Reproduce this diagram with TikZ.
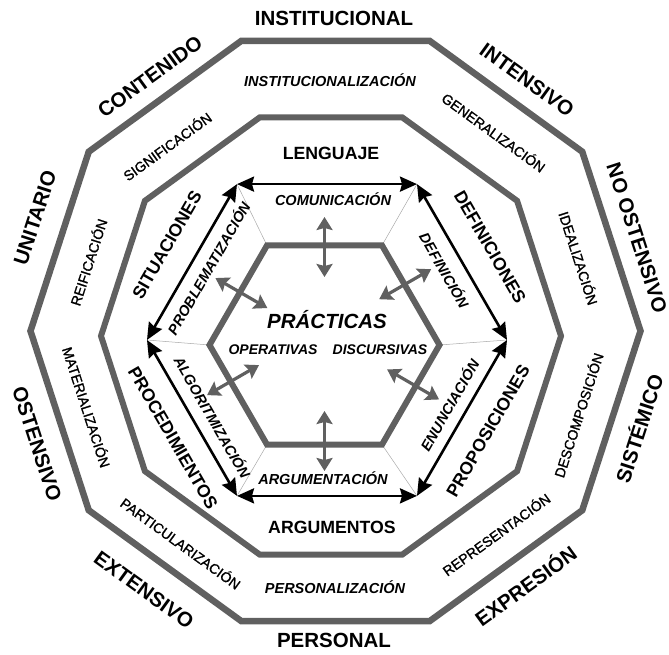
\documentclass[tikz,border=0pt]{standalone}
\usepackage{fontspec}
\setmainfont{Liberation Sans}
\newfontfamily\midfont[FakeBold=1.3]{Liberation Sans}
\usetikzlibrary{arrows.meta,calc}
\definecolor{ringgray}{RGB}{96,96,96}
\definecolor{spokegray}{RGB}{170,170,170}

\begin{document}
\begin{tikzpicture}[x=1pt,y=1pt,
		ring/.style={draw=ringgray,line width=6.5pt},
		bigarrow/.style={line width=2.6pt,{Stealth[length=17pt,width=15pt,inset=2pt]}-{Stealth[length=17pt,width=15pt,inset=2pt]}},
		grayarrow/.style={draw=ringgray,line width=3.2pt,{Stealth[length=13pt,width=16pt,inset=2pt]}-{Stealth[length=13pt,width=16pt,inset=2pt]}},
		spoke/.style={draw=spokegray,line width=0.5pt},
		outerlbl/.style={font=\bfseries\fontsize{20.5}{24}\selectfont},
		midlbl/.style={font=\midfont\fontsize{14}{16}\selectfont},
		miditlbl/.style={font=\bfseries\itshape\fontsize{14.5}{17}\selectfont},
		innerlbl/.style={font=\bfseries\fontsize{17.7}{20}\selectfont},
		arrowlbl/.style={font=\bfseries\itshape\fontsize{14.5}{17}\selectfont},
		centerlbl/.style={font=\bfseries\itshape\fontsize{20.5}{24}\selectfont}]
	\useasboundingbox (0,0) rectangle (669,654);

	% centres of the four polygons
	\coordinate (oc) at (335.5,323);
	\coordinate (mc) at (331,318);
	\coordinate (ac) at (327,314);
	\coordinate (hc) at (324.5,309);

	% corners
	\foreach \i in {0,...,9} {
		\coordinate (o\i) at ($(oc)+(\i*36:305)$);
		\coordinate (m\i) at ($(mc)+(\i*36:230)$);
	}
	\foreach \i in {0,...,5} {
		\coordinate (a\i) at ($(ac)+(\i*60:180)$);
		\coordinate (p\i) at ($(hc)+(\i*60:115)$);
	}

	% rings
	\draw[ring] (o0) -- (o1) -- (o2) -- (o3) -- (o4) -- (o5) -- (o6) -- (o7) -- (o8) -- (o9) -- cycle;
	\draw[ring,line width=6pt] (m0) -- (m1) -- (m2) -- (m3) -- (m4) -- (m5) -- (m6) -- (m7) -- (m8) -- (m9) -- cycle;
	\foreach \i in {0,...,5}
		\draw[spoke] (p\i) -- (a\i);
	\draw[ring,line width=6pt] (p0) -- (p1) -- (p2) -- (p3) -- (p4) -- (p5) -- cycle;

	% black arrows between the corners
	\draw[bigarrow] (a0) -- (a1);
	\draw[bigarrow] (a1) -- (a2);
	\draw[bigarrow] (a2) -- (a3);
	\draw[bigarrow] (a3) -- (a4);
	\draw[bigarrow] (a4) -- (a5);
	\draw[bigarrow] (a5) -- (a0);

	% gray arrows through the hexagon
	\foreach \a/\r/\d in {90/98/90, 148/98/150, 37/101/30, -24/97/-30, 201/98/210, -90/96/90}
		\draw[grayarrow] ($(hc)+(\a:\r)+(\d:30)$) -- ($(hc)+(\a:\r)-(\d:30)$);

	% outer labels
	\node[outerlbl] (institucional) at (334,636) {INSTITUCIONAL};
	\node[outerlbl,rotate=-36] (intensivo) at (527,574) {INTENSIVO};
	\node[outerlbl,rotate=-72] (noostensivo) at (637,416) {NO OSTENSIVO};
	\node[outerlbl,rotate=72] (sistemico) at (638,226) {SISTÉMICO};
	\node[outerlbl,rotate=36] (expresion) at (525,69) {EXPRESIÓN};
	\node[outerlbl] (personal) at (334,14) {PERSONAL};
	\node[outerlbl,rotate=-36] (extensivo) at (144,64) {EXTENSIVO};
	\node[outerlbl,rotate=-72] (ostensivo) at (37,210) {OSTENSIVO};
	\node[outerlbl,rotate=72] (unitario) at (35,436) {UNITARIO};
	\node[outerlbl,rotate=36] (contenido) at (150,577) {CONTENIDO};

	% middle labels
	\node[miditlbl] (instz) at (330,574) {INSTITUCIONALIZACIÓN};
	\node[midlbl,rotate=-36] (generalz) at (494,522) {GENERALIZACIÓN};
	\node[midlbl,rotate=-72] (idealz) at (579,396) {IDEALIZACIÓN};
	\node[midlbl,rotate=72] (descomp) at (578,239) {DESCOMPOSICIÓN};
	\node[midlbl,rotate=36] (repres) at (496,120) {REPRESENTACIÓN};
	\node[miditlbl] (personz) at (335,67) {PERSONALIZACIÓN};
	\node[midlbl,rotate=-36] (particz) at (181,111) {PARTICULARIZACIÓN};
	\node[midlbl,rotate=-72] (materz) at (87,247) {MATERIALIZACIÓN};
	\node[midlbl,rotate=72] (reific) at (88,392) {REIFICACIÓN};
	\node[midlbl,rotate=36] (signif) at (167,508) {SIGNIFICACIÓN};

	% inner labels
	\node[innerlbl] (lenguaje) at (331,501) {LENGUAJE};
	\node[innerlbl,rotate=-60] (definiciones) at (490,407) {DEFINICIONES};
	\node[innerlbl,rotate=60] (proposiciones) at (488,223) {PROPOSICIONES};
	\node[innerlbl] (argumentos) at (332,127) {ARGUMENTOS};
	\node[innerlbl,rotate=-60] (procedimientos) at (173,216) {PROCEDIMIENTOS};
	\node[innerlbl,rotate=60] (situaciones) at (167,409) {SITUACIONES};

	% arrow labels
	\node[arrowlbl] (comunic) at (333,455) {COMUNICACIÓN};
	\node[arrowlbl,rotate=-60] (definic) at (445,384) {DEFINICIÓN};
	\node[arrowlbl,rotate=60] (enunc) at (449,249) {ENUNCIACIÓN};
	\node[arrowlbl] (argument) at (323,176) {ARGUMENTACIÓN};
	\node[arrowlbl,rotate=-60] (algorit) at (213,237) {ALGORITMIZACIÓN};
	\node[arrowlbl,rotate=60] (problem) at (208,386) {PROBLEMATIZACIÓN};

	% centre
	\node[centerlbl] (practicas) at (327,334) {PRÁCTICAS};
	\node[arrowlbl,font=\bfseries\itshape\fontsize{14}{16}\selectfont] (operativas) at (273,304) {OPERATIVAS};
	\node[arrowlbl,font=\bfseries\itshape\fontsize{14}{16}\selectfont] (discursivas) at (380,304) {DISCURSIVAS};
\end{tikzpicture}
\end{document}
